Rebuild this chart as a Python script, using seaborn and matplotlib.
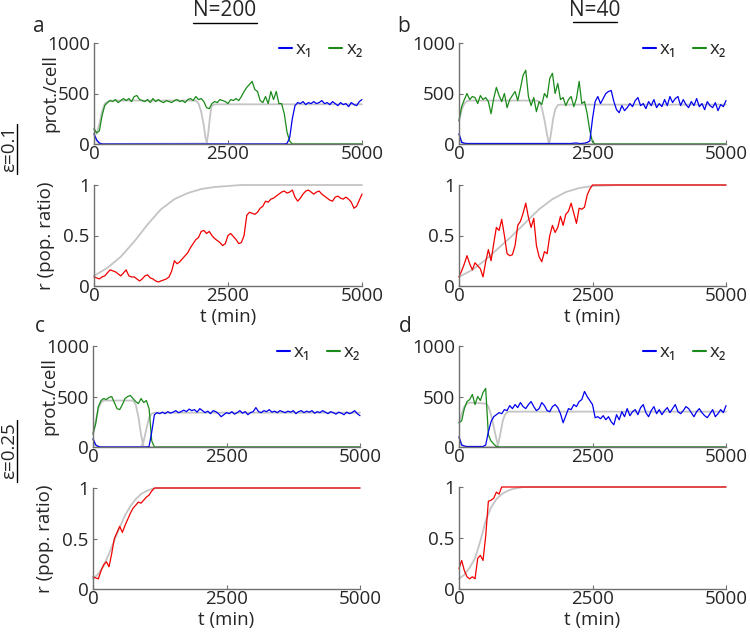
import numpy as np
import matplotlib.pyplot as plt
import seaborn as sns
from matplotlib.lines import Line2D

# sampling times of the stochastic traces (min)
t = np.arange(0, 5001, 50)

# ---- panel a : N=200, eps=0.1 ----
a_x1 = [100, 40, 10, 0, 0, 0, 0, 0, 0, 0, 0, 0, 0, 0, 0, 0, 0, 0, 0, 0,
        0, 0, 0, 0, 0, 0, 0, 0, 0, 0, 0, 0, 0, 0, 0, 0, 0, 0, 0, 0,
        0, 0, 0, 0, 0, 0, 0, 0, 0, 0, 0, 0, 0, 0, 0, 0, 0, 0, 0, 0,
        0, 0, 0, 0, 0, 0, 0, 0, 0, 0, 0, 0, 5, 60, 250, 380, 410, 400, 420, 390,
        410, 400, 420, 400, 410, 430, 400, 410, 390, 420, 400, 380, 410, 390, 400, 370, 410, 390, 380, 420, 440]
a_x2 = [150, 110, 130, 280, 380, 410, 430, 420, 440, 410, 430, 450, 430, 450, 420, 470, 480, 440, 430, 420,
        440, 410, 450, 420, 440, 420, 410, 430, 420, 410, 430, 440, 420, 430, 410, 440, 450, 430, 470, 440,
        450, 420, 360, 350, 400, 420, 410, 440, 430, 420, 400, 440, 430, 450, 430, 470, 520, 560, 590, 620,
        540, 520, 430, 410, 470, 400, 520, 440, 520, 400, 400, 300, 120, 30, 0, 0, 0, 0, 0, 0,
        0, 0, 0, 0, 0, 0, 0, 0, 0, 0, 0, 0, 0, 0, 0, 0, 0, 0, 0, 0, 0]
a_r = [.09, .08, .07, .09, .10, .13, .16, .15, .14, .12, .10, .13, .16, .10, .09, .09, .07, .05, .07, .10,
       .11, .08, .07, .05, .04, .05, .06, .07, .09, .15, .25, .22, .24, .27, .30, .33, .38, .42, .46, .48,
       .54, .55, .52, .54, .50, .47, .45, .43, .40, .42, .50, .52, .49, .46, .42, .43, .50, .70, .73, .72,
       .71, .73, .77, .79, .84, .83, .86, .87, .89, .91, .93, .94, .92, .93, .95, .88, .84, .87, .91, .94,
       .95, .93, .91, .93, .94, .91, .89, .87, .85, .84, .88, .89, .87, .86, .88, .86, .83, .77, .79, .85, .91]
a_g1_t = [0, 50, 100, 2100, 2130, 2160, 2190, 2230, 2300, 5000]
a_g1 = [100, 30, 0, 5, 100, 250, 370, 390, 393, 393]
a_g2_t = [0, 50, 100, 150, 200, 300, 1900, 1950, 2000, 2050, 2080, 2110, 2150, 5000]
a_g2 = [150, 100, 200, 320, 400, 430, 430, 400, 320, 180, 60, 5, 0, 0]
a_gr_t = [0, 250, 500, 750, 1000, 1250, 1500, 1750, 2000, 2250, 2500, 2750, 3000, 5000]
a_gr = [.10, .18, .29, .44, .61, .76, .86, .92, .96, .98, .99, 1, 1, 1]

# ---- panel b : N=40, eps=0.1 ----
b_x1 = [100, 15, 8, 5, 5, 5, 5, 5, 5, 5, 5, 5, 5, 5, 5, 5, 5, 5, 5, 5,
        5, 5, 5, 5, 5, 5, 5, 5, 5, 5, 5, 5, 5, 5, 5, 5, 5, 5, 5, 5,
        5, 5, 5, 8, 10, 5, 5, 8, 15, 30, 250, 420, 470, 400, 450, 500, 520, 530, 420, 340,
        310, 380, 330, 360, 400, 370, 430, 460, 380, 400, 350, 420, 380, 440, 360, 400, 370, 440, 380, 470,
        410, 450, 470, 380, 440, 390, 360, 420, 380, 450, 370, 400, 340, 420, 380, 360, 410, 330, 390, 370, 430]
b_x2 = [230, 370, 440, 500, 440, 470, 460, 400, 480, 440, 460, 420, 300, 450, 560, 480, 420, 500, 360, 440,
        480, 520, 430, 550, 680, 730, 470, 380, 460, 320, 420, 390, 500, 460, 650, 700, 500, 600, 440, 460,
        380, 440, 470, 370, 450, 620, 400, 420, 300, 130, 20, 0, 0, 0, 0, 0, 0, 0, 0, 0,
        0, 0, 0, 0, 0, 0, 0, 0, 0, 0, 0, 0, 0, 0, 0, 0, 0, 0, 0, 0,
        0, 0, 0, 0, 0, 0, 0, 0, 0, 0, 0, 0, 0, 0, 0, 0, 0, 0, 0, 0, 0]
b_r = [.09, .15, .22, .30, .22, .16, .23, .20, .17, .09, .24, .36, .25, .42, .58, .55, .66, .50, .32, .30,
       .31, .40, .60, .64, .72, .82, .68, .58, .67, .40, .29, .24, .34, .32, .50, .60, .53, .58, .69, .60,
       .71, .74, .82, .72, .62, .77, .76, .78, .90, .96, 1, 1, 1, 1, 1, 1, 1, 1, 1, 1,
       1, 1, 1, 1, 1, 1, 1, 1, 1, 1, 1, 1, 1, 1, 1, 1, 1, 1, 1, 1,
       1, 1, 1, 1, 1, 1, 1, 1, 1, 1, 1, 1, 1, 1, 1, 1, 1, 1, 1, 1, 1]
b_g1_t = [0, 50, 100, 1680, 1700, 1730, 1760, 1800, 1850, 1900, 5000]
b_g1 = [100, 25, 0, 0, 30, 130, 240, 340, 385, 390, 390]
b_g2_t = [0, 50, 100, 150, 200, 1450, 1500, 1550, 1600, 1650, 1680, 1700, 5000]
b_g2 = [230, 340, 400, 425, 430, 430, 420, 360, 240, 90, 10, 0, 0]
b_gr_t = [0, 250, 500, 750, 1000, 1250, 1500, 1750, 2000, 2250, 2500, 3000, 5000]
b_gr = [.09, .16, .26, .38, .50, .63, .76, .86, .93, .97, .99, 1, 1]

# ---- panel c : N=200, eps=0.25 ----
c_x1 = [80, 20, 5, 0, 0, 0, 0, 0, 0, 0, 0, 0, 0, 0, 0, 0, 0, 0, 0, 0,
        0, 5, 150, 320, 340, 330, 345, 330, 350, 335, 345, 360, 340, 350, 365, 350, 375, 360, 370, 345,
        380, 360, 340, 355, 330, 360, 350, 330, 300, 320, 340, 330, 350, 325, 340, 360, 335, 350, 320, 340,
        350, 390, 350, 340, 360, 350, 370, 345, 355, 340, 360, 350, 340, 355, 345, 360, 330, 350, 360, 340,
        355, 345, 360, 335, 350, 340, 360, 345, 330, 350, 340, 325, 345, 335, 320, 345, 330, 340, 360, 330, 310]
c_x2 = [130, 230, 400, 460, 480, 470, 490, 500, 440, 380, 370, 420, 480, 500, 510, 480, 450, 430, 480, 440,
        460, 380, 60, 0, 0, 0, 0, 0, 0, 0, 0, 0, 0, 0, 0, 0, 0, 0, 0, 0,
        0, 0, 0, 0, 0, 0, 0, 0, 0, 0, 0, 0, 0, 0, 0, 0, 0, 0, 0, 0,
        0, 0, 0, 0, 0, 0, 0, 0, 0, 0, 0, 0, 0, 0, 0, 0, 0, 0, 0, 0,
        0, 0, 0, 0, 0, 0, 0, 0, 0, 0, 0, 0, 0, 0, 0, 0, 0, 0, 0, 0, 0]
c_r = [.12, .11, .10, .18, .24, .27, .22, .35, .50, .56, .62, .56, .63, .69, .75, .80, .83, .86, .85, .88,
       .91, .93, .97, 1, 1, 1, 1, 1, 1, 1, 1, 1, 1, 1, 1, 1, 1, 1, 1, 1,
       1, 1, 1, 1, 1, 1, 1, 1, 1, 1, 1, 1, 1, 1, 1, 1, 1, 1, 1, 1,
       1, 1, 1, 1, 1, 1, 1, 1, 1, 1, 1, 1, 1, 1, 1, 1, 1, 1, 1, 1,
       1, 1, 1, 1, 1, 1, 1, 1, 1, 1, 1, 1, 1, 1, 1, 1, 1, 1, 1, 1, 1]
c_g1_t = [0, 50, 100, 900, 950, 1000, 1050, 1100, 1150, 5000]
c_g1 = [80, 20, 0, 0, 60, 180, 290, 330, 340, 340]
c_g2_t = [0, 50, 100, 150, 200, 750, 800, 850, 900, 950, 5000]
c_g2 = [130, 250, 380, 440, 460, 460, 420, 300, 120, 0, 0]
c_gr_t = [0, 100, 200, 300, 400, 500, 600, 700, 800, 900, 1000, 1100, 1200, 5000]
c_gr = [.10, .15, .23, .35, .48, .61, .73, .82, .89, .94, .97, .99, 1, 1]

# ---- panel d : N=40, eps=0.25 ----
d_x1 = [100, 20, 10, 5, 5, 5, 5, 5, 5, 5, 20, 150, 250, 300, 320, 340, 330, 370, 360, 410,
        380, 420, 390, 440, 400, 380, 420, 450, 400, 360, 380, 440, 410, 360, 350, 400, 420, 390, 330, 240,
        310, 380, 370, 420, 400, 450, 470, 550, 500, 460, 420, 290, 300, 280, 310, 270, 300, 250, 220, 320,
        270, 350, 300, 380, 310, 350, 370, 320, 390, 420, 340, 300, 360, 400, 330, 370, 320, 360, 390, 340,
        380, 420, 350, 330, 360, 400, 380, 340, 300, 350, 380, 340, 310, 290, 330, 370, 300, 330, 370, 340, 410]
d_x2 = [240, 260, 380, 450, 470, 520, 420, 500, 460, 540, 580, 120, 60, 30, 5, 0, 0, 0, 0, 0,
        0, 0, 0, 0, 0, 0, 0, 0, 0, 0, 0, 0, 0, 0, 0, 0, 0, 0, 0, 0,
        0, 0, 0, 0, 0, 0, 0, 0, 0, 0, 0, 0, 0, 0, 0, 0, 0, 0, 0, 0,
        0, 0, 0, 0, 0, 0, 0, 0, 0, 0, 0, 0, 0, 0, 0, 0, 0, 0, 0, 0,
        0, 0, 0, 0, 0, 0, 0, 0, 0, 0, 0, 0, 0, 0, 0, 0, 0, 0, 0, 0, 0]
d_r = [.20, .28, .18, .12, .10, .12, .10, .30, .33, .28, .52, .86, .87, .89, .95, .93, 1, 1, 1, 1,
       1, 1, 1, 1, 1, 1, 1, 1, 1, 1, 1, 1, 1, 1, 1, 1, 1, 1, 1, 1,
       1, 1, 1, 1, 1, 1, 1, 1, 1, 1, 1, 1, 1, 1, 1, 1, 1, 1, 1, 1,
       1, 1, 1, 1, 1, 1, 1, 1, 1, 1, 1, 1, 1, 1, 1, 1, 1, 1, 1, 1,
       1, 1, 1, 1, 1, 1, 1, 1, 1, 1, 1, 1, 1, 1, 1, 1, 1, 1, 1, 1, 1]
d_g1_t = [0, 50, 100, 700, 740, 780, 820, 860, 900, 950, 5000]
d_g1 = [100, 20, 0, 0, 40, 150, 260, 320, 345, 350, 350]
d_g2_t = [0, 50, 100, 150, 200, 500, 550, 600, 650, 700, 740, 5000]
d_g2 = [240, 330, 400, 430, 440, 430, 400, 320, 200, 80, 0, 0]
d_gr_t = [0, 100, 200, 300, 400, 500, 600, 700, 800, 900, 1000, 1200, 5000]
d_gr = [.10, .14, .21, .30, .47, .67, .80, .88, .93, .96, .98, 1, 1]

BLUE, GREEN, RED, GREY = "#0000f0", "#1a8a1a", "#f00000", "#c4c4c4"
AXC = "#707070"
FS = 13.5

sns.set_style("ticks")
plt.rcParams['font.family'] = ['Open Sans', 'DejaVu Sans']
plt.rcParams['font.size'] = FS


def style(ax, yticks, ylabels):
    sns.despine(ax=ax)
    for s in ("left", "bottom"):
        ax.spines[s].set_color(AXC)
        ax.spines[s].set_linewidth(1.0)
    ax.set_xlim(0, 5000)
    ax.set_xticks([0, 2500, 5000])
    ax.set_yticks(yticks)
    ax.set_yticklabels(ylabels)
    ax.tick_params(direction="in", length=3, width=0.8, color=AXC, labelsize=FS)
    ax.tick_params(axis="x", pad=1)
    ax.tick_params(axis="y", pad=3)
    ax.set_xlabel("")
    ax.set_ylabel("")


def protein(ax, x1, x2, g1_t, g1, g2_t, g2, ylab):
    sns.lineplot(x=g2_t, y=g2, color=GREY, lw=1.3, ax=ax)
    sns.lineplot(x=g1_t, y=g1, color=GREY, lw=1.3, ax=ax)
    sns.lineplot(x=t, y=x2, color=GREEN, lw=0.9, ax=ax)
    sns.lineplot(x=t, y=x1, color=BLUE, lw=0.9, ax=ax)
    for ln in ax.lines:
        ln.set_clip_on(False)
    ax.set_ylim(0, 1000)
    style(ax, [0, 500, 1000], ["0", "500", "1000"])
    handles = [Line2D([], [], color=BLUE, lw=1.5), Line2D([], [], color=GREEN, lw=1.5)]
    ax.legend(handles, ["x\u2081", "x\u2082"], loc="upper right", bbox_to_anchor=(1.03, 1.1),
              ncol=2, frameon=False, handlelength=0.7, handletextpad=0.2, columnspacing=0.9,
              fontsize=FS, borderaxespad=0)
    if ylab:
        ax.set_ylabel("prot./cell")
        ax.yaxis.set_label_coords(-0.13, 0.5)


def ratio(ax, r, gr_t, gr, ylab):
    sns.lineplot(x=gr_t, y=gr, color=GREY, lw=1.3, ax=ax)
    sns.lineplot(x=t, y=r, color=RED, lw=0.9, ax=ax)
    for ln in ax.lines:
        ln.set_clip_on(False)
    ax.set_ylim(0, 1)
    style(ax, [0, 0.5, 1], ["0", "0.5", "1"])
    ax.set_xlabel("t (min)", labelpad=2)
    if ylab:
        ax.set_ylabel("r (pop. ratio)")
        ax.yaxis.set_label_coords(-0.145, 0.5)


fig = plt.figure(figsize=(7.5, 6.32), dpi=100)
W, H = 750, 632


def add_ax(x0, x1, y0, y1):
    return fig.add_axes([x0 / W, 1 - y1 / H, (x1 - x0) / W, (y1 - y0) / H])


ax_a1 = add_ax(94, 362, 43, 144)
ax_a2 = add_ax(94, 362, 185, 286)
ax_b1 = add_ax(459, 726, 43, 144)
ax_b2 = add_ax(459, 726, 185, 286)
ax_c1 = add_ax(93, 360, 346, 447)
ax_c2 = add_ax(93, 360, 488, 589)
ax_d1 = add_ax(459, 726, 346, 447)
ax_d2 = add_ax(459, 726, 487, 589)

protein(ax_a1, a_x1, a_x2, a_g1_t, a_g1, a_g2_t, a_g2, True)
ratio(ax_a2, a_r, a_gr_t, a_gr, True)
protein(ax_b1, b_x1, b_x2, b_g1_t, b_g1, b_g2_t, b_g2, False)
ratio(ax_b2, b_r, b_gr_t, b_gr, False)
protein(ax_c1, c_x1, c_x2, c_g1_t, c_g1, c_g2_t, c_g2, True)
ratio(ax_c2, c_r, c_gr_t, c_gr, True)
protein(ax_d1, d_x1, d_x2, d_g1_t, d_g1, d_g2_t, d_g2, False)
ratio(ax_d2, d_r, d_gr_t, d_gr, False)


# column titles, row titles and panel letters (underlined where needed)
def fx(x):
    return x / W


def fy(y):
    return 1 - y / H


fig.text(fx(225), fy(11), "N=200", ha="center", va="center", fontsize=15)
fig.add_artist(Line2D([fx(193), fx(257)], [fy(23), fy(23)], color="black", lw=1))
fig.text(fx(595), fy(11), "N=40", ha="center", va="center", fontsize=15)
fig.add_artist(Line2D([fx(573), fx(617)], [fy(22), fy(22)], color="black", lw=1))

fig.text(fx(9), fy(149), "\u03b5=0.1", rotation=90, ha="center", va="center", fontsize=13.5)
fig.add_artist(Line2D([fx(17), fx(17)], [fy(124), fy(174)], color="black", lw=1))
fig.text(fx(9), fy(451), "\u03b5=0.25", rotation=90, ha="center", va="center", fontsize=13.5)
fig.add_artist(Line2D([fx(17), fx(17)], [fy(420), fy(482)], color="black", lw=1))

for letter, x, y in [("a", 39, 26), ("b", 404, 26), ("c", 40, 327), ("d", 405, 327)]:
    fig.text(fx(x), fy(y), letter, ha="center", va="center", fontsize=15)

fig.savefig("out.png", dpi=100)
